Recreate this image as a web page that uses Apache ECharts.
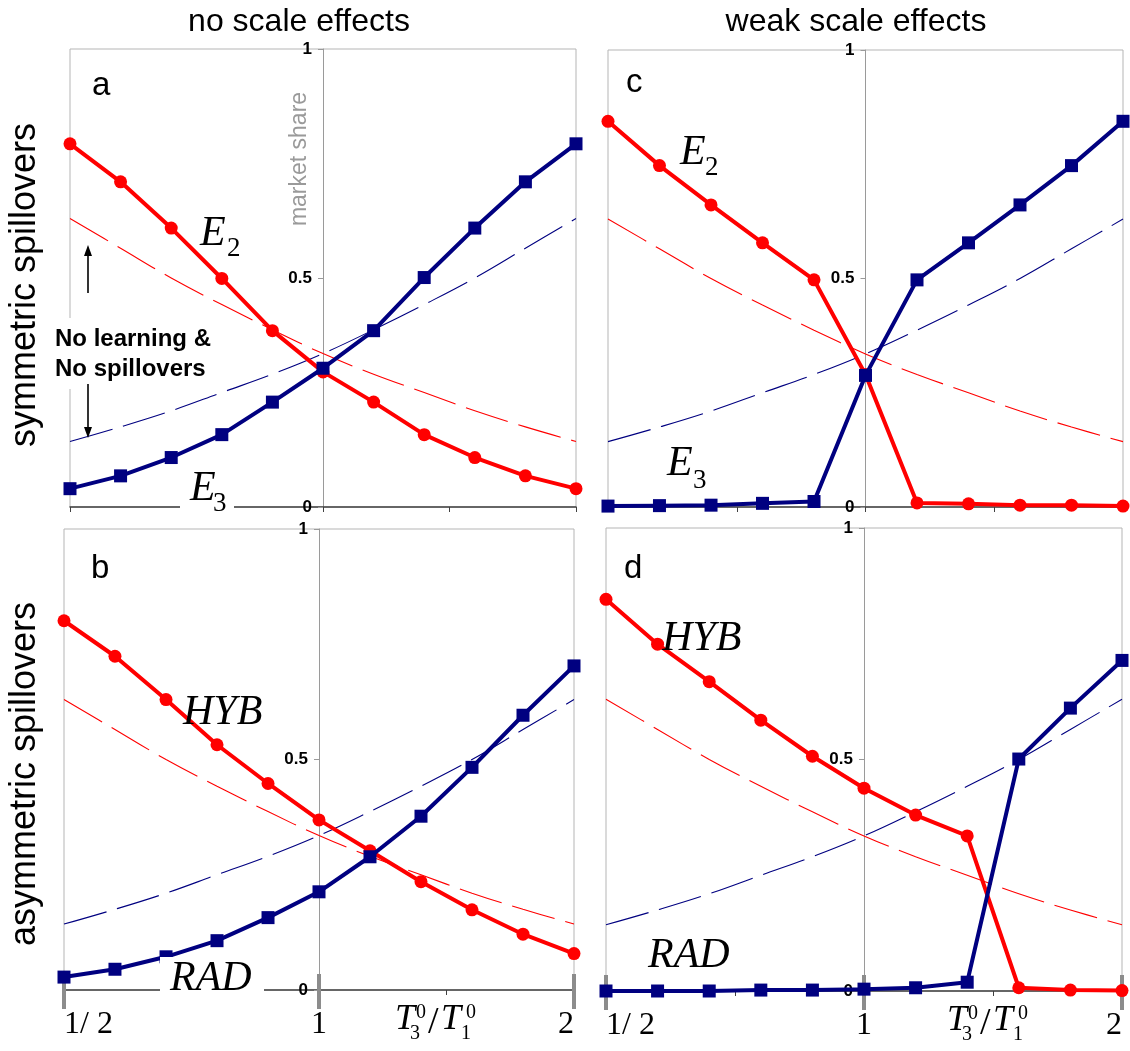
<!DOCTYPE html>
<html>
<head>
<meta charset="utf-8">
<title>market share</title>
<script src="https://cdn.jsdelivr.net/npm/echarts@6.0.0/dist/echarts.min.js"></script>
<style>
  html, body { margin: 0; padding: 0; background: #fff; }
  #chart { width: 1130px; height: 1051px; }
</style>
</head>
<body>
<div id="chart"></div>
<script>
// T3/T1 ratio of the 11 runs (log spaced, 1/2 .. 2)
var ratio = [0.5, 0.5743, 0.6598, 0.7579, 0.8706, 1, 1.1487, 1.3195, 1.5157, 1.7411, 2];

// "no learning & no spillovers" shares, same in every panel
var baseRed  = [0.630, 0.565, 0.500, 0.442, 0.387, 0.335, 0.290, 0.250, 0.210, 0.175, 0.143];
var baseBlue = [0.143, 0.175, 0.210, 0.250, 0.290, 0.335, 0.387, 0.442, 0.500, 0.565, 0.630];

// a : no scale effects, symmetric spillovers (E2 red, E3 blue)
var redA  = [0.793, 0.710, 0.609, 0.499, 0.385, 0.295, 0.229, 0.158, 0.108, 0.068, 0.040];
var blueA = [0.040, 0.068, 0.108, 0.158, 0.229, 0.303, 0.385, 0.501, 0.609, 0.710, 0.793];
// b : no scale effects, asymmetric spillovers (HYB red, RAD blue)
var redB  = [0.801, 0.724, 0.630, 0.532, 0.448, 0.369, 0.302, 0.235, 0.174, 0.121, 0.079];
var blueB = [0.028, 0.045, 0.072, 0.107, 0.157, 0.213, 0.289, 0.377, 0.483, 0.596, 0.703];
// c : weak scale effects, symmetric spillovers
var redC  = [0.844, 0.747, 0.661, 0.578, 0.497, 0.290, 0.009, 0.007, 0.004, 0.004, 0.002];
var blueC = [0.002, 0.003, 0.004, 0.008, 0.012, 0.288, 0.497, 0.578, 0.661, 0.747, 0.844];
// d : weak scale effects, asymmetric spillovers
var redD  = [0.846, 0.749, 0.668, 0.585, 0.507, 0.438, 0.380, 0.335, 0.007, 0.002, 0.001];
var blueD = [0.000, 0.000, 0.000, 0.002, 0.002, 0.004, 0.007, 0.019, 0.501, 0.611, 0.714];

var yTicks = ['0', '0.5', '1'];
var xTickLabels = ['1/ 2', '1', '2'];

var RED = '#ff0000', NAVY = '#000080';
var SANS = 'Liberation Sans', SERIF = 'Liberation Serif';

var myChart = echarts.init(document.getElementById('chart'));

// panel boxes: a, b, c, d
var grids = [
  {left: 70,  top: 49,  width: 506, height: 458},
  {left: 64,  top: 529, width: 510, height: 461},
  {left: 608, top: 50,  width: 515, height: 457},
  {left: 606, top: 528, width: 516, height: 463}
];
var panels = [[redA, blueA], [redB, blueB], [redC, blueC], [redD, blueD]];
var bottomRow = [false, true, false, true];

function pairs(vals) {
  return ratio.map(function (x, i) { return [x, vals[i]]; });
}

var xAxes = [], yAxes = [], series = [];
grids.forEach(function (g, p) {
  var mainX = xAxes.length;
  // axis line at y = 0 with small ticks at 1/2, 1/sqrt2, 1, sqrt2, 2
  xAxes.push({
    gridIndex: p, type: 'log', logBase: Math.SQRT2, min: 0.5, max: 2, position: 'bottom',
    axisLine: {show: true, lineStyle: {color: '#404040', width: 1.5}},
    axisTick: {show: true, length: 5, lineStyle: {color: '#404040', width: 1}},
    axisLabel: {show: false}, splitLine: {show: false}
  });
  if (bottomRow[p]) {
    // thick grey ticks at 1/2, 1, 2 with labels
    xAxes.push({
      gridIndex: p, type: 'log', logBase: 2, min: 0.5, max: 2, position: 'bottom',
      axisLine: {show: false},
      axisTick: {show: true, length: 19, lineStyle: {color: '#8c8c8c', width: 4}},
      axisLabel: {
        show: true, margin: 19, color: '#000', fontFamily: SERIF, fontSize: 32,
        alignMinLabel: 'left', alignMaxLabel: 'right',
        formatter: function (v) { return v < 0.75 ? xTickLabels[0] : (v < 1.5 ? xTickLabels[1] : xTickLabels[2]); }
      },
      splitLine: {show: false}
    });
    xAxes.push({
      gridIndex: p, type: 'log', logBase: 2, min: 0.5, max: 2, position: 'bottom',
      axisLine: {show: false},
      axisTick: {show: true, inside: true, length: 16, lineStyle: {color: '#8c8c8c', width: 4}},
      axisLabel: {show: false}, splitLine: {show: false}
    });
  }
  // market share axis sits at T3/T1 = 1, i.e. the middle of the panel
  yAxes.push({
    gridIndex: p, type: 'value', min: 0, max: 1, interval: 0.5, position: 'left',
    offset: -g.width / 2,
    axisLine: {show: true, lineStyle: {color: '#9a9a9a', width: 1}},
    axisTick: {show: true, length: 5, lineStyle: {color: '#9a9a9a'}},
    axisLabel: {
      show: true, margin: 11, color: '#000', fontFamily: SANS, fontSize: 17, fontWeight: 'bold',
      formatter: function (v) { return yTicks[Math.round(v * 2)]; }
    },
    splitLine: {show: false}
  });

  var dashed = {width: 1.1, type: [44, 11]};
  series.push({
    type: 'line', xAxisIndex: mainX, yAxisIndex: p, data: pairs(baseRed), smooth: 0.4,
    showSymbol: false, lineStyle: Object.assign({color: RED}, dashed), z: 2, silent: true
  });
  series.push({
    type: 'line', xAxisIndex: mainX, yAxisIndex: p, data: pairs(baseBlue), smooth: 0.4,
    showSymbol: false, lineStyle: Object.assign({color: NAVY}, dashed), z: 2, silent: true
  });
  series.push({
    type: 'line', xAxisIndex: mainX, yAxisIndex: p, data: pairs(panels[p][0]), clip: false,
    symbol: 'circle', symbolSize: 13, itemStyle: {color: RED},
    lineStyle: {color: RED, width: 4}, z: 3
  });
  series.push({
    type: 'line', xAxisIndex: mainX, yAxisIndex: p, data: pairs(panels[p][1]), clip: false,
    symbol: 'rect', symbolSize: 13, itemStyle: {color: NAVY},
    lineStyle: {color: NAVY, width: 4}, z: 4
  });
});

// text helpers (y given as baseline)
function txt(x, base, s, size, family, extra) {
  var st = {text: s, fontSize: size, fontFamily: family, fill: '#000', align: 'left', verticalAlign: 'middle'};
  for (var k in extra || {}) st[k] = extra[k];
  return {type: 'text', x: x, y: base - 0.34 * size, z: 100, style: st};
}
function vtxt(x, y, s, size, color) {
  return {type: 'text', x: x, y: y, rotation: Math.PI / 2, z: 100,
          style: {text: s, fontSize: size, fontFamily: SANS, fill: color, align: 'center', verticalAlign: 'middle'}};
}
function whiteBox(x, y, w, h) {
  return {type: 'rect', shape: {x: x, y: y, width: w, height: h}, style: {fill: '#fff'}, z: 90};
}
function ratioLabel(dx, dy) {
  var it = {fontStyle: 'italic'};
  return [
    txt(395 + dx, 1032 + dy, 'T', 36, SERIF, it),
    txt(416 + dx, 1020 + dy, '0', 20, SERIF),
    txt(410 + dx, 1041 + dy, '3', 20, SERIF),
    txt(428 + dx, 1036 + dy, '/', 38, SERIF),
    txt(441 + dx, 1032 + dy, 'T', 36, SERIF, it),
    txt(466 + dx, 1020 + dy, '0', 20, SERIF),
    txt(461 + dx, 1041 + dy, '1', 20, SERIF)
  ];
}

var italic = {fontStyle: 'italic'};
var graphics = [
  // column and row headings
  txt(299, 33, 'no scale effects', 32, SANS, {align: 'center'}),
  txt(856, 33, 'weak scale effects', 32, SANS, {align: 'center'}),
  vtxt(25, 285, 'symmetric spillovers', 36, '#000'),
  vtxt(25, 774, 'asymmetric spillovers', 36, '#000'),
  vtxt(300, 159, 'market share', 23, '#9a9a9a'),
  // panel letters
  txt(92, 97, 'a', 33, SANS),
  txt(91, 580, 'b', 33, SANS),
  txt(626, 94, 'c', 33, SANS),
  txt(624, 580, 'd', 33, SANS),
  // panel a annotation
  whiteBox(50, 318, 170, 71),
  {type: 'text', x: 55, y: 324, z: 100,
   style: {text: 'No learning &\nNo spillovers', fontSize: 24, fontWeight: 'bold', fontFamily: SANS,
           lineHeight: 30, fill: '#000', align: 'left', verticalAlign: 'top'}},
  {type: 'line', shape: {x1: 88, y1: 293, x2: 88, y2: 254}, style: {stroke: '#000', lineWidth: 1.6}, z: 100},
  {type: 'polygon', shape: {points: [[88, 245], [84, 256], [92, 256]]}, style: {fill: '#000'}, z: 100},
  {type: 'line', shape: {x1: 88, y1: 384, x2: 88, y2: 429}, style: {stroke: '#000', lineWidth: 1.6}, z: 100},
  {type: 'polygon', shape: {points: [[88, 438], [84, 427], [92, 427]]}, style: {fill: '#000'}, z: 100},
  // technology names
  txt(200, 248, 'E', 42, SERIF, italic), txt(227, 258, '2', 27, SERIF),
  whiteBox(180, 470, 54, 45),
  txt(190, 503, 'E', 42, SERIF, italic), txt(213, 513, '3', 27, SERIF),
  txt(680, 167, 'E', 42, SERIF, italic), txt(705, 177, '2', 27, SERIF),
  txt(667, 478, 'E', 42, SERIF, italic), txt(693, 490, '3', 27, SERIF),
  txt(183, 727, 'HYB', 42, SERIF, italic),
  whiteBox(160, 957, 104, 42),
  txt(170, 993, 'RAD', 42, SERIF, italic),
  txt(662, 653, 'HYB', 42, SERIF, italic),
  txt(648, 970, 'RAD', 42, SERIF, italic)
].concat(ratioLabel(0, 0), ratioLabel(552, 1));

var option = {
  backgroundColor: '#fff',
  animation: false,
  grid: grids.map(function (g) {
    return {left: g.left, top: g.top, width: g.width, height: g.height,
            show: true, borderColor: '#b5b5b5', borderWidth: 1, containLabel: false};
  }),
  xAxis: xAxes,
  yAxis: yAxes,
  series: series,
  graphic: graphics
};

myChart.setOption(option);
</script>
</body>
</html>
